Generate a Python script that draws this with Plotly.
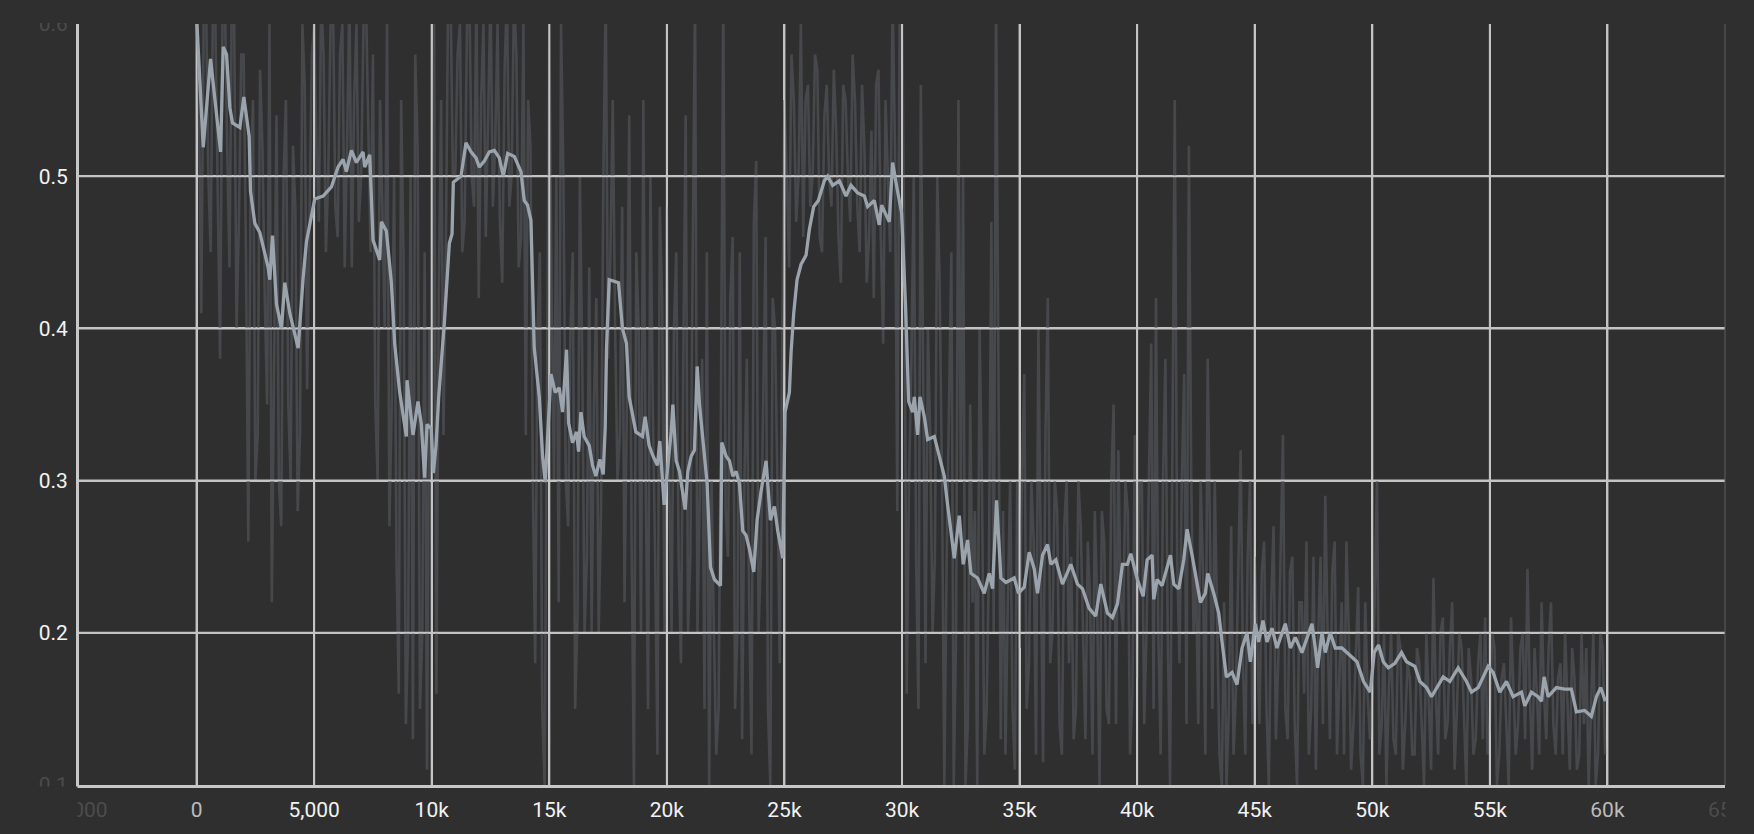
import plotly.graph_objects as go

# ---------------- data ----------------
# raw series, read at every 200 steps (0, 200, ... 59800)
raw_values_even = [
    # 0 - 4800
    0.62, 0.41, 0.62, 0.45, 0.60, 0.38, 0.62, 0.44, 0.60, 0.47, 0.58, 0.26, 0.55,
    0.33, 0.52, 0.35, 0.22, 0.54, 0.27, 0.55, 0.30, 0.48, 0.33, 0.56, 0.48,
    # 5000 - 9800
    0.60, 0.47, 0.58, 0.50, 0.62, 0.46, 0.60, 0.52, 0.44, 0.60, 0.50, 0.62, 0.45,
    0.35, 0.55, 0.40, 0.27, 0.50, 0.16, 0.45, 0.20, 0.13, 0.52, 0.20, 0.11,
    # 10000 - 14800
    0.30, 0.16, 0.55, 0.45, 0.62, 0.50, 0.60, 0.47, 0.62, 0.48, 0.42, 0.60, 0.55,
    0.48, 0.60, 0.43, 0.62, 0.50, 0.58, 0.46, 0.33, 0.52, 0.18, 0.45, 0.10,
    # 15000 - 19800
    0.60, 0.30, 0.22, 0.50, 0.27, 0.45, 0.21, 0.38, 0.25, 0.20, 0.42, 0.28, 0.62,
    0.45, 0.40, 0.33, 0.22, 0.54, 0.10, 0.40, 0.55, 0.15, 0.35, 0.12, 0.42,
    # 20000 - 24800
    0.48, 0.20, 0.45, 0.18, 0.54, 0.25, 0.62, 0.30, 0.15, 0.10, 0.20, 0.15, 0.62,
    0.25, 0.46, 0.20, 0.13, 0.38, 0.12, 0.51, 0.25, 0.46, 0.10, 0.40, 0.18,
    # 25000 - 29800
    0.55, 0.44, 0.55, 0.50, 0.46, 0.56, 0.50, 0.57, 0.45, 0.56, 0.48, 0.53, 0.43,
    0.55, 0.47, 0.55, 0.45, 0.52, 0.46, 0.42, 0.57, 0.39, 0.50, 0.62, 0.28,
    # 30000 - 34800
    0.62, 0.16, 0.38, 0.25, 0.56, 0.18, 0.33, 0.25, 0.43, 0.10, 0.34, 0.10, 0.55,
    0.50, 0.14, 0.22, 0.10, 0.30, 0.15, 0.47, 0.62, 0.13, 0.12, 0.30, 0.11,
    # 35000 - 39800
    0.19, 0.37, 0.18, 0.26, 0.40, 0.115, 0.42, 0.20, 0.28, 0.12, 0.30, 0.25, 0.15,
    0.27, 0.13, 0.22, 0.28, 0.10, 0.26, 0.14, 0.35, 0.32, 0.20, 0.28, 0.16,
    # 40000 - 44800
    0.17, 0.30, 0.20, 0.39, 0.42, 0.12, 0.38, 0.10, 0.55, 0.18, 0.37, 0.52, 0.20,
    0.14, 0.24, 0.38, 0.15, 0.20, 0.10, 0.10, 0.27, 0.16, 0.32, 0.12, 0.30,
    # 45000 - 49800
    0.25, 0.14, 0.26, 0.10, 0.27, 0.18, 0.33, 0.13, 0.25, 0.10, 0.22, 0.26, 0.15,
    0.11, 0.25, 0.29, 0.13, 0.26, 0.17, 0.12, 0.20, 0.14, 0.23, 0.10, 0.16,
    # 50000 - 54800
    0.16, 0.30, 0.14, 0.10, 0.20, 0.12, 0.19, 0.14, 0.17, 0.12, 0.18, 0.10, 0.16,
    0.236, 0.12, 0.21, 0.14, 0.22, 0.15, 0.19, 0.10, 0.17, 0.13, 0.20, 0.21,
    # 55000 - 59800
    0.14, 0.19, 0.12, 0.18, 0.10, 0.17, 0.14, 0.20, 0.242, 0.11, 0.16, 0.22, 0.13,
    0.22, 0.12, 0.18, 0.20, 0.11, 0.17, 0.12, 0.14, 0.10, 0.20, 0.12, 0.19,
]
# raw series, read in between (100, 300, ... 59900)
raw_values_odd = [
    # 100 - 4900
    0.55, 0.60, 0.50, 0.62, 0.47, 0.60, 0.52, 0.62, 0.40, 0.58, 0.45, 0.50, 0.30,
    0.57, 0.42, 0.60, 0.38, 0.30, 0.50, 0.35, 0.52, 0.28, 0.60, 0.36, 0.58,
    # 5100 - 9900
    0.52, 0.62, 0.45, 0.60, 0.48, 0.58, 0.44, 0.62, 0.55, 0.47, 0.60, 0.52, 0.58,
    0.30, 0.48, 0.60, 0.35, 0.25, 0.55, 0.14, 0.50, 0.58, 0.15, 0.45, 0.40,
    # 10100 - 14900
    0.60, 0.42, 0.33, 0.62, 0.50, 0.58, 0.45, 0.60, 0.50, 0.62, 0.55, 0.46, 0.62,
    0.52, 0.47, 0.57, 0.48, 0.62, 0.44, 0.60, 0.55, 0.30, 0.40, 0.15, 0.35,
    # 15100 - 19900
    0.42, 0.50, 0.60, 0.30, 0.40, 0.15, 0.50, 0.20, 0.44, 0.35, 0.20, 0.50, 0.38,
    0.55, 0.30, 0.48, 0.35, 0.26, 0.45, 0.20, 0.30, 0.50, 0.25, 0.48, 0.20,
    # 20100 - 24900
    0.30, 0.40, 0.25, 0.38, 0.20, 0.45, 0.20, 0.38, 0.45, 0.30, 0.12, 0.35, 0.28,
    0.42, 0.15, 0.45, 0.30, 0.22, 0.47, 0.20, 0.35, 0.15, 0.42, 0.30, 0.38,
    # 25100 - 29900
    0.50, 0.58, 0.47, 0.60, 0.55, 0.48, 0.58, 0.46, 0.54, 0.50, 0.57, 0.46, 0.56,
    0.50, 0.58, 0.48, 0.56, 0.43, 0.53, 0.56, 0.46, 0.55, 0.45, 0.52, 0.60,
    # 30100 - 34900
    0.45, 0.30, 0.50, 0.15, 0.35, 0.40, 0.20, 0.50, 0.30, 0.25, 0.45, 0.20, 0.30,
    0.10, 0.35, 0.28, 0.40, 0.12, 0.25, 0.20, 0.35, 0.28, 0.22, 0.15, 0.30,
    # 35100 - 39900
    0.30, 0.15, 0.30, 0.12, 0.25, 0.33, 0.18, 0.30, 0.14, 0.27, 0.18, 0.13, 0.30,
    0.20, 0.26, 0.12, 0.22, 0.28, 0.15, 0.30, 0.14, 0.22, 0.30, 0.12, 0.33,
    # 40100 - 44900
    0.30, 0.14, 0.30, 0.15, 0.20, 0.30, 0.20, 0.32, 0.25, 0.30, 0.14, 0.30, 0.24,
    0.30, 0.12, 0.26, 0.30, 0.12, 0.22, 0.15, 0.12, 0.25, 0.18, 0.25, 0.14,
    # 45100 - 49900
    0.20, 0.24, 0.15, 0.22, 0.13, 0.25, 0.15, 0.24, 0.14, 0.22, 0.16, 0.12, 0.25,
    0.20, 0.14, 0.20, 0.24, 0.12, 0.22, 0.26, 0.11, 0.19, 0.12, 0.22, 0.13,
    # 50100 - 54900
    0.22, 0.12, 0.20, 0.16, 0.13, 0.20, 0.11, 0.18, 0.12, 0.19, 0.14, 0.20, 0.11,
    0.16, 0.20, 0.13, 0.19, 0.11, 0.20, 0.14, 0.19, 0.12, 0.18, 0.13, 0.12,
    # 55100 - 59900
    0.20, 0.10, 0.17, 0.14, 0.21, 0.12, 0.19, 0.13, 0.16, 0.19, 0.12, 0.16, 0.19,
    0.14, 0.17, 0.12, 0.15, 0.19, 0.11, 0.20, 0.19, 0.15, 0.10, 0.20, 0.12,
]
raw_steps_even = [i * 200 for i in range(len(raw_values_even))]
raw_steps_odd = [100 + i * 200 for i in range(len(raw_values_odd))]

smooth_steps = [
    0, 283, 595, 1020, 1133, 1274, 1416, 1529, 1841, 2011, 2237, 2294, 2478, 2690,
    3044, 3115, 3228, 3398, 3610, 3752, 3965, 4319, 4531, 4673, 5026, 5380, 5735,
    6018, 6230, 6372, 6584, 6797, 7080, 7150, 7363, 7505, 7788, 7859, 8071, 8284,
    8425, 8638, 8921, 8950, 9204, 9416, 9558, 9700, 9800, 9983, 10070, 10184, 10297,
    10538, 10750, 10864, 10920, 11246, 11458, 11671, 11883, 12025, 12237, 12450,
    12662, 12874, 13044, 13228, 13512, 13795, 13936, 14078, 14220, 14361, 14574,
    14715, 14829, 14970, 15069, 15253, 15423, 15565, 15735, 15820, 15990, 16160,
    16245, 16344, 16485, 16698, 16839, 16981, 17151, 17293, 17378, 17434, 17547,
    17943, 18113, 18283, 18397, 18680, 18963, 19076, 19246, 19416, 19600, 19700,
    19884, 20026, 20184, 20255, 20396, 20538, 20779, 20892, 21034, 21175, 21289,
    21388, 21529, 21713, 21855, 22025, 22280, 22336, 22520, 22662, 22804, 22945,
    23087, 23228, 23370, 23512, 23696, 23837, 24007, 24220, 24404, 24574, 24715,
    24928, 25027, 25211, 25282, 25395, 25537, 25706, 25919, 26060, 26244, 26443,
    26698, 26839, 27052, 27335, 27618, 27830, 28114, 28397, 28539, 28822, 29034,
    29133, 29459, 29600, 29813, 29983, 30150, 30283, 30453, 30524, 30665, 30764,
    30949, 31090, 31374, 31657, 31798, 31940, 32082, 32223, 32436, 32605, 32790,
    32931, 33214, 33498, 33710, 33852, 34021, 34206, 34418, 34772, 34956, 35197,
    35409, 35622, 35763, 35976, 36188, 36330, 36542, 36825, 37179, 37462, 37675,
    37958, 38241, 38454, 38737, 38949, 39162, 39374, 39586, 39728, 40011, 40255,
    40425, 40637, 40708, 40850, 41062, 41204, 41416, 41558, 41770, 41982, 42124,
    42336, 42549, 42690, 42903, 43002, 43257, 43469, 43611, 43795, 44036, 44248,
    44460, 44673, 44814, 45027, 45168, 45352, 45522, 45735, 45947, 46301, 46514,
    46726, 47009, 47434, 47576, 47675, 47859, 48001, 48213, 48425, 48709, 48921,
    49346, 49629, 49912, 50082, 50266, 50467, 50680, 50963, 51246, 51458, 51812,
    52025, 52308, 52520, 52733, 53016, 53299, 53653, 54007, 54220, 54503, 54928,
    55140, 55423, 55707, 55990, 56344, 56485, 56768, 57051, 57193, 57307, 57476,
    57830, 58184, 58467, 58680, 59034, 59317, 59530, 59714, 59912,
]
smooth_values = [
    0.605, 0.519, 0.577, 0.516, 0.585, 0.580, 0.545, 0.535, 0.532, 0.552, 0.526,
    0.490, 0.469, 0.463, 0.440, 0.432, 0.461, 0.416, 0.400, 0.430, 0.410, 0.387,
    0.433, 0.457, 0.485, 0.487, 0.493, 0.506, 0.511, 0.503, 0.517, 0.509, 0.516,
    0.506, 0.514, 0.458, 0.445, 0.470, 0.464, 0.430, 0.390, 0.358, 0.329, 0.366,
    0.330, 0.352, 0.337, 0.302, 0.337, 0.334, 0.305, 0.323, 0.355, 0.404, 0.456,
    0.462, 0.496, 0.500, 0.522, 0.516, 0.512, 0.506, 0.510, 0.516, 0.517, 0.512,
    0.500, 0.515, 0.513, 0.503, 0.484, 0.481, 0.471, 0.387, 0.355, 0.316, 0.299,
    0.342, 0.370, 0.358, 0.361, 0.345, 0.386, 0.338, 0.325, 0.332, 0.319, 0.345,
    0.329, 0.323, 0.310, 0.303, 0.314, 0.304, 0.335, 0.387, 0.432, 0.430, 0.400,
    0.390, 0.355, 0.332, 0.329, 0.342, 0.323, 0.316, 0.310, 0.326, 0.284, 0.307,
    0.332, 0.350, 0.313, 0.306, 0.281, 0.306, 0.316, 0.320, 0.375, 0.350, 0.327,
    0.298, 0.243, 0.235, 0.231, 0.325, 0.316, 0.313, 0.303, 0.306, 0.298, 0.267,
    0.264, 0.255, 0.240, 0.274, 0.293, 0.313, 0.274, 0.283, 0.267, 0.249, 0.345,
    0.358, 0.384, 0.410, 0.432, 0.442, 0.448, 0.465, 0.480, 0.484, 0.497, 0.500,
    0.494, 0.497, 0.487, 0.494, 0.489, 0.487, 0.480, 0.484, 0.468, 0.481, 0.470,
    0.509, 0.490, 0.476, 0.415, 0.352, 0.345, 0.355, 0.330, 0.355, 0.342, 0.327,
    0.329, 0.313, 0.303, 0.284, 0.268, 0.249, 0.277, 0.245, 0.261, 0.239, 0.236,
    0.226, 0.239, 0.229, 0.287, 0.236, 0.233, 0.236, 0.226, 0.230, 0.253, 0.242,
    0.226, 0.251, 0.258, 0.245, 0.248, 0.232, 0.245, 0.232, 0.229, 0.216, 0.211,
    0.232, 0.213, 0.210, 0.219, 0.245, 0.245, 0.252, 0.235, 0.224, 0.248, 0.251,
    0.222, 0.235, 0.231, 0.239, 0.251, 0.232, 0.229, 0.248, 0.268, 0.251, 0.232,
    0.220, 0.226, 0.239, 0.226, 0.213, 0.194, 0.171, 0.174, 0.166, 0.190, 0.200,
    0.181, 0.206, 0.194, 0.208, 0.194, 0.203, 0.190, 0.206, 0.190, 0.197, 0.187,
    0.206, 0.190, 0.177, 0.200, 0.187, 0.200, 0.190, 0.190, 0.187, 0.181, 0.168,
    0.161, 0.187, 0.192, 0.181, 0.177, 0.180, 0.187, 0.181, 0.178, 0.168, 0.164,
    0.158, 0.164, 0.171, 0.168, 0.177, 0.168, 0.161, 0.164, 0.178, 0.174, 0.161,
    0.168, 0.158, 0.161, 0.152, 0.161, 0.158, 0.155, 0.171, 0.158, 0.164, 0.163,
    0.163, 0.148, 0.149, 0.145, 0.158, 0.164, 0.155,
]

x_tick_vals = [-5000, 0, 5000, 10000, 15000, 20000, 25000, 30000, 35000, 40000,
               45000, 50000, 55000, 60000, 65000]
x_tick_text = ["-5,000", "0", "5,000", "10k", "15k", "20k", "25k", "30k", "35k",
               "40k", "45k", "50k", "55k", "60k", "65k"]
y_tick_vals = [0.1, 0.2, 0.3, 0.4, 0.5, 0.6]
y_tick_text = ["0.1", "0.2", "0.3", "0.4", "0.5", "0.6"]
x_range = [-5000, 65000]
y_range = [0.1, 0.6]

# merge the two raw readings into one series ordered by step
raw_pairs = sorted(zip(raw_steps_even + raw_steps_odd,
                       raw_values_even + raw_values_odd))
raw_steps = [p[0] for p in raw_pairs]
raw_values = [p[1] for p in raw_pairs]

# ---------------- style ----------------
BG = "#2f2f2f"
RAW_COLOR = "#46484c"
SMOOTH_COLOR = "#9ba4ad"
GRID = "#c4c4c4"
WHITE = "#f2f2f2"
DIM = "#bcbcbc"
FADED = "#4c4c4c"


def styled(text, color):
    return f'<span style="color:{color}">{text}</span>'


x_colors = []
for v in x_tick_vals:
    if v in (-5000, 65000):
        x_colors.append(FADED)
    elif v in (0, 60000):
        x_colors.append(DIM)
    else:
        x_colors.append(WHITE)
x_text = [styled(t, c) for t, c in zip(x_tick_text, x_colors)]
y_text = [styled(t, FADED if v in (0.1, 0.6) else WHITE)
          for t, v in zip(y_tick_text, y_tick_vals)]

# grid drawn as a trace so that it sits above the raw series (as in the source)
grid_x, grid_y = [], []
for v in x_tick_vals:
    if x_range[0] < v < x_range[1]:
        grid_x += [v, v, None]
        grid_y += [y_range[0], y_range[1], None]
for v in y_tick_vals:
    if y_range[0] < v < y_range[1]:
        grid_x += [x_range[0], x_range[1], None]
        grid_y += [v, v, None]

W, H = 1754, 834
L, R, T, B = 79, 29, 24, 43
PW, PH = W - L - R, H - T - B

fig = go.Figure()
fig.add_trace(go.Scatter(x=raw_steps, y=raw_values, mode="lines",
                         line=dict(color=RAW_COLOR, width=2.6),
                         hoverinfo="skip", showlegend=False))
fig.add_trace(go.Scatter(x=grid_x, y=grid_y, mode="lines",
                         line=dict(color=GRID, width=2),
                         hoverinfo="skip", showlegend=False))
fig.add_trace(go.Scatter(x=smooth_steps, y=smooth_values, mode="lines",
                         line=dict(color=SMOOTH_COLOR, width=3.3),
                         showlegend=False))


def px_x(p):
    return (p - L) / PW


def px_y(p):
    return (H - B - p) / PH


shapes = [
    # thin right border
    dict(type="line", xref="paper", yref="paper", x0=1, x1=1, y0=0, y1=1,
         line=dict(color="#5e5e5e", width=1), layer="above"),
    # clip covers for the labels that run past the plot edges
    dict(type="rect", xref="paper", yref="paper", x0=px_x(0), x1=px_x(77.5),
         y0=px_y(H), y1=px_y(792.5), fillcolor=BG, line=dict(width=0), layer="above"),
    dict(type="rect", xref="paper", yref="paper", x0=px_x(0), x1=px_x(77.5),
         y0=px_y(23), y1=px_y(0), fillcolor=BG, line=dict(width=0), layer="above"),
    dict(type="rect", xref="paper", yref="paper", x0=px_x(1725.5), x1=px_x(W),
         y0=px_y(H), y1=px_y(793), fillcolor=BG, line=dict(width=0), layer="above"),
]

fig.update_layout(
    width=W, height=H,
    margin=dict(l=L, r=R, t=T, b=B, pad=0),
    paper_bgcolor=BG, plot_bgcolor=BG,
    font=dict(family="Roboto", size=21, color=WHITE),
    shapes=shapes,
    xaxis=dict(range=x_range, tickmode="array", tickvals=x_tick_vals,
               ticktext=x_text, showgrid=True, gridcolor=GRID, gridwidth=2,
               zeroline=False, showline=True, linecolor="#c8c8c8", linewidth=3,
               ticks="", ticklabelstandoff=4, tickangle=0, layer="above traces"),
    yaxis=dict(range=y_range, tickmode="array", tickvals=y_tick_vals,
               ticktext=y_text, showgrid=True, gridcolor=GRID, gridwidth=2,
               zeroline=False, showline=True, linecolor="#c8c8c8", linewidth=3,
               ticks="", ticklabelstandoff=4, layer="above traces"),
    hovermode=False,
)

fig.write_html("out.html", config={"displayModeBar": False},
               post_script="document.body.style.margin='0';")
